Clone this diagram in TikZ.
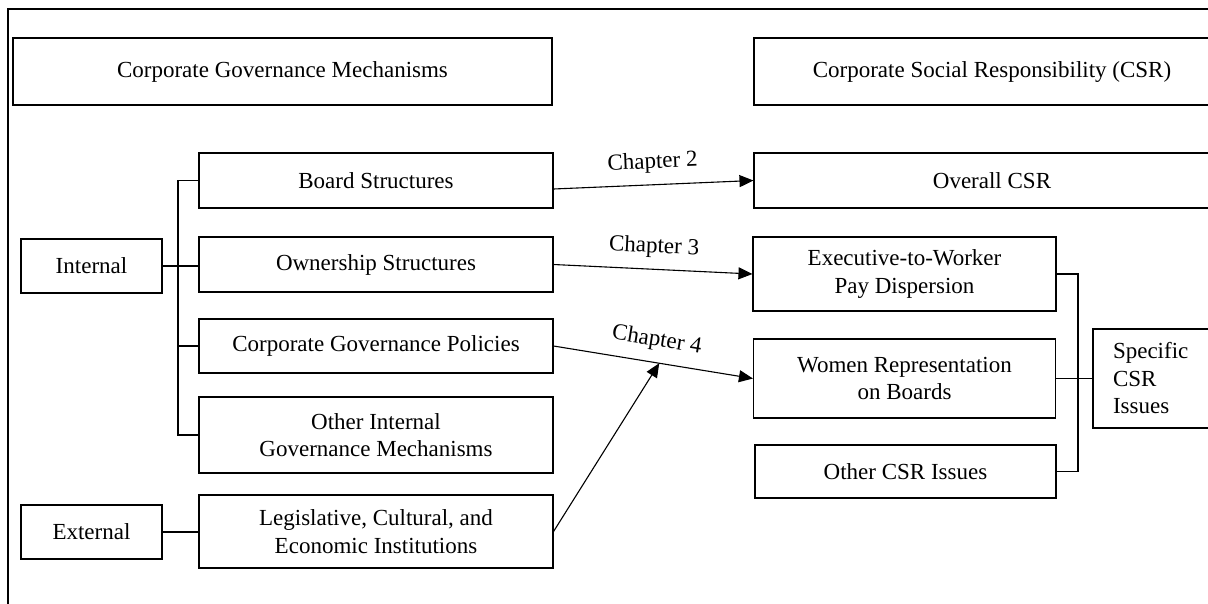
\documentclass[tikz,border=0pt]{standalone}
\usepackage{fontspec}
\setmainfont{Liberation Serif}
\usetikzlibrary{arrows.meta}
\begin{document}
\begin{tikzpicture}[x=1pt,y=-1pt,
  every node/.style={font=\fontsize{23}{27.5}\selectfont},
  box/.style={draw, line width=1.1pt, inner sep=0pt, align=center},
  link/.style={line width=1.1pt},
  arr/.style={line width=1.1pt, -{Triangle[length=14pt,width=12pt]}},
  chap/.style={sloped, above=11pt, inner sep=0pt}]
\useasboundingbox (0,0) rectangle (1208,603);
\clip (0,0) rectangle (1208,603);

% outer frame
\draw[link] (8,9) rectangle (1260,660);

% headings
\node[box, minimum width=539pt, minimum height=67pt] (cgm) at (282.5,71.5) {Corporate Governance Mechanisms};
\node[box, minimum width=476pt, minimum height=67pt] (csr) at (992,71.5) {Corporate Social Responsibility (CSR)};

% governance side
\node[box, minimum width=141pt, minimum height=54pt] (internal) at (91.5,266) {Internal};
\node[box, minimum width=141pt, minimum height=54pt] (external) at (91.5,532) {External};
\node[box, minimum width=354pt, minimum height=55pt] (board) at (376,180.5) {Board Structures};
\node[box, minimum width=354pt, minimum height=55pt] (own) at (376,264.5) {Ownership Structures};
\node[box, minimum width=354pt, minimum height=54pt] (pol) at (376,346) {Corporate Governance Policies};
\node[box, minimum width=354pt, minimum height=76pt] (otherint) at (376,435) {Other Internal\\Governance Mechanisms};
\node[box, minimum width=354pt, minimum height=73pt] (leg) at (376,531.5) {Legislative, Cultural, and\\Economic Institutions};

% CSR side
\node[box, minimum width=476pt, minimum height=55pt] (overall) at (992,180.5) {Overall CSR};
\node[box, minimum width=303pt, minimum height=74pt] (exec) at (904.5,274) {Executive-to-Worker\\Pay Dispersion};
\node[box, minimum width=302pt, minimum height=79pt] (women) at (904.5,378.5) {Women Representation\\on Boards};
\node[box, minimum width=301pt, minimum height=53pt] (othercsr) at (905.5,471.5) {Other CSR Issues};
\node[box, minimum width=147pt, minimum height=99pt, inner xsep=20pt, text width=107pt, align=left] (specific) at (1166.5,378.5) {Specific\\CSR\\Issues};

% brackets
\coordinate (lbx) at (178,0);
\coordinate (rbx) at (1078,0);
\draw[link] (board.west) -- (board.west -| lbx) -- (otherint.west -| lbx) -- (otherint.west);
\draw[link] (pol.west) -- (pol.west -| lbx);
\draw[link] (internal.east) -- (internal.east -| own.west);
\draw[link] (external.east) -- (external.east -| leg.west);
\draw[link] (exec.east) -- (exec.east -| rbx) -- (othercsr.east -| rbx) -- (othercsr.east);
\draw[link] (women.east) -- (women.east -| specific.west);

% chapter links
\draw[arr] ([yshift=-8.5pt]board.east) -- node[chap] {Chapter 2} (overall.west);
\draw[arr] (own.east) -- node[chap] {Chapter 3} (exec.west);
\draw[arr] (pol.east) -- node[chap] {Chapter 4} coordinate[pos=0.53] (ch4hit) (women.west);
\draw[arr] (leg.east) -- (ch4hit);
\end{tikzpicture}
\end{document}
